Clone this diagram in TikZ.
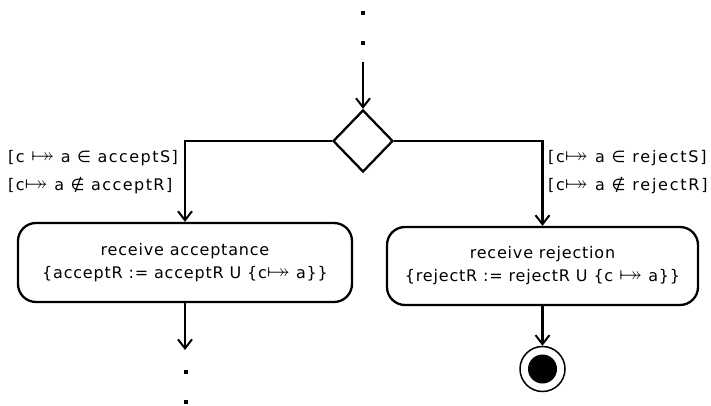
\documentclass[tikz,border=0pt]{standalone}
\usepackage{amssymb}
\usepackage{graphicx}
\usepackage{fontspec}
\setmainfont[LetterSpace=5]{DejaVu Sans}
\usetikzlibrary{arrows.meta,shapes.geometric}
% total-surjection style maplet: bar followed by a two-headed arrow
\newcommand{\tmaplet}{\scalebox{1.45}{$\mapstochar\twoheadrightarrow$}}
\begin{document}
\begin{tikzpicture}[x=1pt,y=-1pt,
  line width=2.3pt,
  flow/.style={-{Straight Barb[length=9pt,width=14pt,line width=2pt]}},
  decision/.style={diamond,draw,minimum width=60pt,minimum height=62pt,inner sep=0pt},
  textfont/.style={font=\fontsize{16}{26}\selectfont},
  activity/.style={draw,rounded corners=18pt,align=center,textfont},
  guard/.style={textfont,align=left,inner sep=0pt},
  dot/.style={fill,minimum size=3.5pt,inner sep=0pt},
  finalnode/.style={circle,draw,line width=1.5pt,minimum size=45pt,inner sep=0pt},
  finalcore/.style={circle,fill,minimum size=29pt,inner sep=0pt}]
  \useasboundingbox (0,0) rectangle (711,406);

  % incoming flow
  \node[dot] (d1) at (363,13) {};
  \node[dot] (d2) at (363,43) {};
  \coordinate (in) at (363,62);
  \node[decision] (dec) at (363,141) {};
  \draw[flow] (in) -- (dec.north);

  % activities
  \node[activity,minimum width=334pt,minimum height=79pt] (acc) at (185,262.5)
    {receive acceptance\\[-3pt]\{acceptR := acceptR U \{c\tmaplet\ a\}\}};
  \node[activity,minimum width=311pt,minimum height=78pt] (rej) at (542.5,266)
    {receive rejection\\[-3pt]\{rejectR := rejectR U \{c \tmaplet\ a\}\}};

  % guards
  \node[guard,anchor=east] (gl) at (179,172)
    {\addfontfeatures{LetterSpace=9}[c \tmaplet\ a ∈ acceptS]\\[2pt]\addfontfeatures{LetterSpace=9}[c\tmaplet\ a ∉ acceptR]};
  \node[guard,anchor=west] (gr) at (547,172)
    {\addfontfeatures{LetterSpace=11}[c\tmaplet\ a ∈ rejectS]\\[2pt]\addfontfeatures{LetterSpace=11}[c\tmaplet\ a ∉ rejectR]};

  % branches
  \draw[flow] (dec.west) -| (acc.north);
  \draw[flow] (dec.east) -| (rej.north);

  % outgoing flows
  \coordinate (out) at (185,350);
  \draw[flow] (acc.south) -- (out);
  \node[dot] (d3) at (186,372) {};
  \node[dot] (d4) at (186,402) {};

  \node[finalnode] (fin) at (542.5,369) {};
  \node[finalcore] (fincore) at (fin.center) {};
  \draw[flow] (rej.south) -- (fin.north);
\end{tikzpicture}
\end{document}
